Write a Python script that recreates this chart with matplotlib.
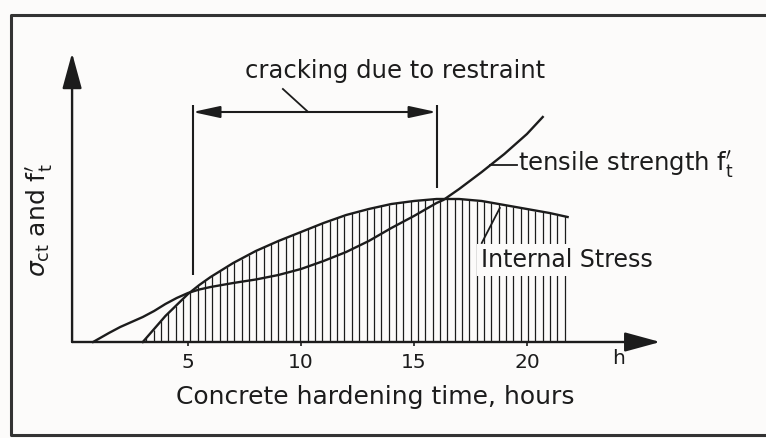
import numpy as np
import matplotlib
matplotlib.use("Agg")
import matplotlib.pyplot as plt

# hours vs. relative stress (arbitrary units)
stress_hours = [3.0, 3.5, 4.0, 4.5, 5.0, 5.5, 6.0, 6.5, 7.0, 7.5, 8.0, 9.0, 10.0,
                11.0, 12.0, 13.0, 14.0, 15.0, 16.0, 17.0, 18.0, 19.0, 20.0, 21.0, 21.8]
stress_vals = [0, 13, 26, 37, 48, 57, 65, 72, 79, 85, 91, 101, 110,
               119, 127, 133, 138, 141, 143, 143, 141, 137, 133, 129, 125]

strength_hours = [0.8, 1.5, 2.0, 2.5, 3.0, 3.5, 4.0, 4.5, 5.0, 5.5, 6.0, 7.0, 8.0, 9.0,
                  10.0, 11.0, 12.0, 13.0, 14.0, 15.0, 16.0, 16.3, 17.0, 18.0, 19.0, 20.0, 20.7]
strength_vals = [0, 9, 15, 20, 25, 31, 38, 44, 49, 52.5, 55, 59, 62.5, 67,
                 73, 81, 90, 101, 114, 126, 139, 142, 153, 170, 188, 208, 225]

tick_hours = [5, 10, 15, 20]
tick_labels = ["5", "10", "15", "20"]

crack_start = 5.2
crack_end = 16.0

ink = "#1c1c1c"
plt.rcParams['font.family'] = ['DejaVu Sans']

fig = plt.figure(figsize=(7.66, 4.38), dpi=100, facecolor="#fcfbfa")
ax = fig.add_axes([0, 0, 1, 1])
ax.set_facecolor("#fcfbfa")
ax.set_xlim(-3.32, 30.58)
ax.set_ylim(-96, 342)
ax.axis("off")

# outer frame of the scanned figure
ax.plot([1.01, 0.0144, 0.0144, 1.01], [0.966, 0.966, 0.007, 0.007],
        transform=ax.transAxes, color="#333333", lw=2.2, clip_on=False)

# axes with arrow heads
x0 = -0.13
ax.annotate("", xy=(x0, 289), xytext=(x0, 0),
            arrowprops=dict(arrowstyle="-|>,head_length=1.1,head_width=0.3",
                            mutation_scale=20, color=ink, lw=1.7,
                            shrinkA=0, shrinkB=0))
ax.annotate("", xy=(25.9, 0), xytext=(x0, 0),
            arrowprops=dict(arrowstyle="-|>,head_length=1.1,head_width=0.3",
                            mutation_scale=20, color=ink, lw=1.7,
                            shrinkA=0, shrinkB=0))

# hatching under the internal stress curve
hatch_x = np.arange(3.15, 21.85, 0.325)
hatch_top = np.interp(hatch_x, stress_hours, stress_vals)
ax.vlines(hatch_x, 0, hatch_top, color=ink, lw=0.9)

# curves
ax.plot(stress_hours, stress_vals, color=ink, lw=1.7, solid_joinstyle="round")
ax.plot(strength_hours, strength_vals, color=ink, lw=1.7, solid_joinstyle="round")

# ticks and labels
ax.vlines(tick_hours, -4, 0, color=ink, lw=1.2)
for h, lab in zip(tick_hours, tick_labels):
    ax.text(h, -20, lab, ha="center", va="center", fontsize=14.5, color=ink)
ax.text(24.07, -17, "h", ha="center", va="center", fontsize=14.5, color=ink)
ax.text(13.3, -55, "Concrete hardening time, hours", ha="center", va="center",
        fontsize=18, color=ink)
ax.text(-1.55, 122, r"$\sigma_{\mathregular{ct}}$ and f$^{\prime}_{\mathregular{t}}$",
        rotation=90, ha="center", va="center", fontsize=18, color=ink)

# cracking range
ax.vlines([crack_start], 67, 237, color=ink, lw=1.5)
ax.vlines([crack_end], 154, 237, color=ink, lw=1.5)
ax.annotate("", xy=(crack_end, 230), xytext=(crack_start, 230),
            arrowprops=dict(arrowstyle="<|-|>,head_length=0.83,head_width=0.18",
                            mutation_scale=20, color=ink, lw=1.5,
                            shrinkA=0, shrinkB=0))
ax.plot([9.2, 10.27], [253, 231], color=ink, lw=1.3)
ax.text(7.52, 271, "cracking due to restraint", ha="left", va="center",
        fontsize=17.5, color=ink)

# curve labels
ax.plot([18.36, 19.56], [177, 177], color=ink, lw=1.3)
ax.text(19.6, 177, r"tensile strength f$^{\prime}_{\mathregular{t}}$", ha="left",
        va="center", fontsize=17.5, color=ink)
ax.plot([18.8, 18.0], [134, 99], color=ink, lw=1.3, zorder=4)
ax.text(17.98, 82, "Internal Stress", ha="left", va="center", fontsize=17,
        color=ink, zorder=5,
        bbox=dict(facecolor="#fcfbfa", edgecolor="none", pad=3))

fig.savefig("out.png", dpi=100, facecolor=fig.get_facecolor())
